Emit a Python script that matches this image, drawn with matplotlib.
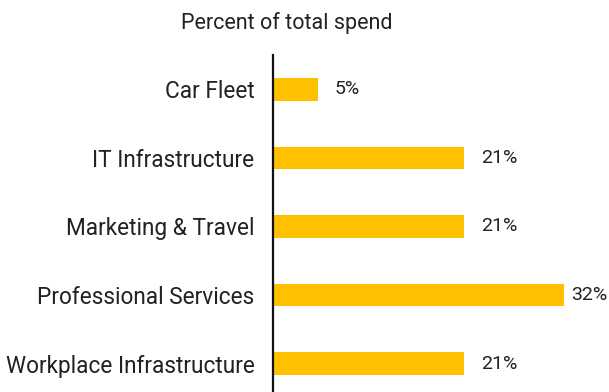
import matplotlib.pyplot as plt

# Spend share by category
categories = ['Car Fleet', 'IT Infrastructure', 'Marketing & Travel',
              'Professional Services', 'Workplace Infrastructure']
percent = [5, 21, 21, 32, 21]

plt.rcParams['font.family'] = ['Roboto', 'DejaVu Sans']

fig = plt.figure(figsize=(6.09, 3.92), dpi=100)
ax = fig.add_axes([272.5 / 609, 0, 1 - 272.5 / 609, (392 - 55) / 392])

y = range(len(categories))
ax.barh(y, percent, height=0.33, color='#FFC000')

ax.set_xlim(0, 36.9)
ax.set_ylim(4.414, -0.5)
ax.set_yticks(list(y))
ax.set_yticklabels(categories, fontsize=16.3, color='#222222')
ax.tick_params(axis='y', length=0, pad=13)
ax.set_xticks([])

for s in ['top', 'right', 'bottom']:
    ax.spines[s].set_visible(False)
ax.spines['left'].set_linewidth(1.6)
ax.spines['left'].set_color('#111111')

# value labels next to the bars, kept inside the figure
xmax = ax.get_xlim()[1]
for i, v in enumerate(percent):
    if v + 6 < xmax:
        ax.annotate(f'{v}%', (v, i), xytext=(12, 0), textcoords='offset points',
                    va='center', ha='left', fontsize=14, color='#222222')
    else:
        ax.annotate(f'{v}%', (xmax, i), xytext=(-1, 0), textcoords='offset points',
                    va='center', ha='right', fontsize=14, color='#222222')

fig.text(286.5 / 609, 1 - 23 / 392, 'Percent of total spend', ha='center', va='center',
         fontsize=15.5, color='#222222')

fig.savefig('out.png', dpi=100)
